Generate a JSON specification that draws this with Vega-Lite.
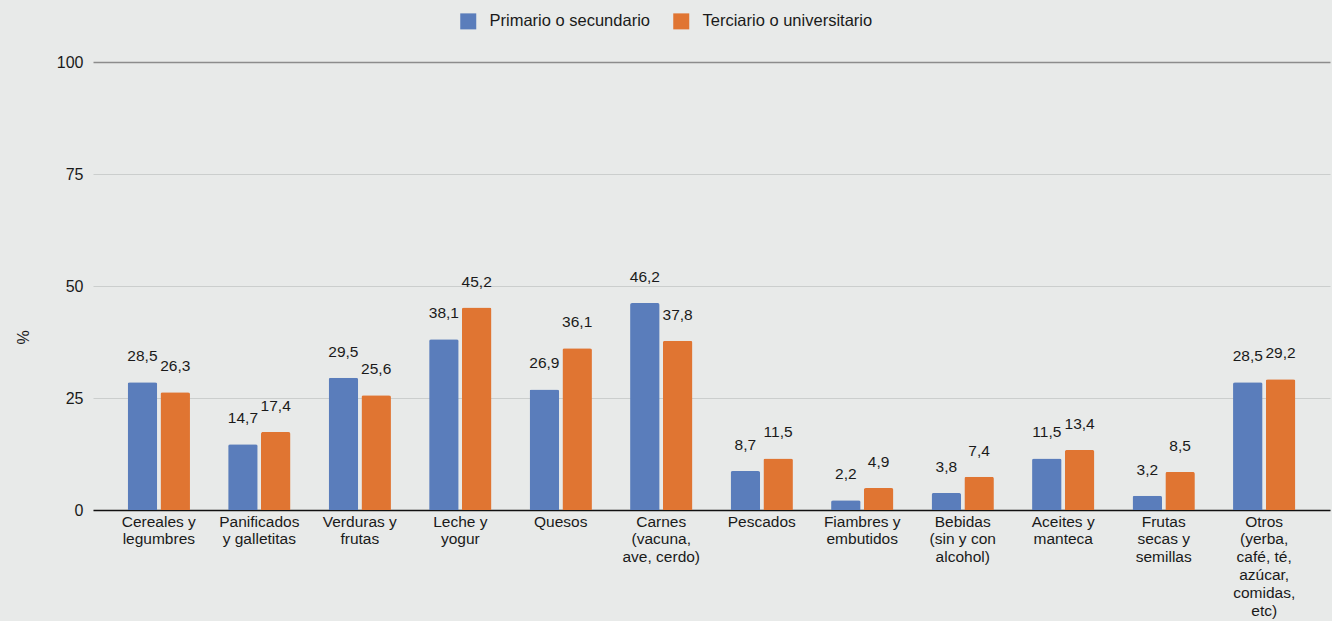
{
  "$schema": "https://vega.github.io/schema/vega-lite/v6.json",
  "width": 1237,
  "height": 448,
  "autosize": "none",
  "padding": {"left": 93, "top": 62, "right": 2, "bottom": 111},
  "background": "#e8eae9",
  "config": {
    "view": {"stroke": null},
    "font": "Liberation Sans",
    "locale": {"number": {"decimal": ",", "thousands": ".", "grouping": [3], "currency": ["", ""]}}
  },
  "data": {
    "values": [
      {"categoria": "Cereales y\nlegumbres", "nivel": "Primario o secundario", "valor": 28.5},
      {"categoria": "Cereales y\nlegumbres", "nivel": "Terciario o universitario", "valor": 26.3},
      {"categoria": "Panificados\ny galletitas", "nivel": "Primario o secundario", "valor": 14.7},
      {"categoria": "Panificados\ny galletitas", "nivel": "Terciario o universitario", "valor": 17.4},
      {"categoria": "Verduras y\nfrutas", "nivel": "Primario o secundario", "valor": 29.5},
      {"categoria": "Verduras y\nfrutas", "nivel": "Terciario o universitario", "valor": 25.6},
      {"categoria": "Leche y\nyogur", "nivel": "Primario o secundario", "valor": 38.1},
      {"categoria": "Leche y\nyogur", "nivel": "Terciario o universitario", "valor": 45.2},
      {"categoria": "Quesos", "nivel": "Primario o secundario", "valor": 26.9},
      {"categoria": "Quesos", "nivel": "Terciario o universitario", "valor": 36.1},
      {"categoria": "Carnes\n(vacuna,\nave, cerdo)", "nivel": "Primario o secundario", "valor": 46.2},
      {"categoria": "Carnes\n(vacuna,\nave, cerdo)", "nivel": "Terciario o universitario", "valor": 37.8},
      {"categoria": "Pescados", "nivel": "Primario o secundario", "valor": 8.7},
      {"categoria": "Pescados", "nivel": "Terciario o universitario", "valor": 11.5},
      {"categoria": "Fiambres y\nembutidos", "nivel": "Primario o secundario", "valor": 2.2},
      {"categoria": "Fiambres y\nembutidos", "nivel": "Terciario o universitario", "valor": 4.9},
      {"categoria": "Bebidas\n(sin y con\nalcohol)", "nivel": "Primario o secundario", "valor": 3.8},
      {"categoria": "Bebidas\n(sin y con\nalcohol)", "nivel": "Terciario o universitario", "valor": 7.4},
      {"categoria": "Aceites y\nmanteca", "nivel": "Primario o secundario", "valor": 11.5},
      {"categoria": "Aceites y\nmanteca", "nivel": "Terciario o universitario", "valor": 13.4},
      {"categoria": "Frutas\nsecas y\nsemillas", "nivel": "Primario o secundario", "valor": 3.2},
      {"categoria": "Frutas\nsecas y\nsemillas", "nivel": "Terciario o universitario", "valor": 8.5},
      {"categoria": "Otros\n(yerba,\ncafé, té,\nazúcar,\ncomidas,\netc)", "nivel": "Primario o secundario", "valor": 28.5},
      {"categoria": "Otros\n(yerba,\ncafé, té,\nazúcar,\ncomidas,\netc)", "nivel": "Terciario o universitario", "valor": 29.2}
    ]
  },
  "encoding": {
    "x": {
      "field": "categoria",
      "type": "nominal",
      "sort": null,
      "scale": {"paddingInner": 0.38, "paddingOuter": 0.345},
      "axis": {
        "title": null,
        "labelAngle": 0,
        "labelExpr": "split(datum.value, '\\n')",
        "labelFontSize": 15.5,
        "labelColor": "#1a1a1a",
        "labelLineHeight": 17.8,
        "labelPadding": 4,
        "labelBaseline": "top",
        "ticks": false,
        "domainColor": "#111111",
        "domainWidth": 1.5,
        "labelLimit": 0
      }
    },
    "xOffset": {"field": "nivel", "type": "nominal", "scale": {"paddingInner": 0.1}},
    "y": {
      "field": "valor",
      "type": "quantitative",
      "scale": {"domain": [0, 100], "nice": false},
      "axis": {
        "title": "%",
        "titleFontSize": 16,
        "titleFontWeight": "normal",
        "titleColor": "#1a1a1a",
        "titlePadding": 25,
        "titleY": 275,
        "values": [0, 25, 50, 75, 100],
        "labelFontSize": 16,
        "labelColor": "#1a1a1a",
        "labelPadding": 10,
        "ticks": false,
        "domain": false,
        "gridColor": {"condition": {"test": "datum.value === 100", "value": "#8c8c8c"}, "value": "#cbcecd"},
        "gridWidth": {"condition": {"test": "datum.value === 100", "value": 1.3}, "value": 1}
      }
    }
  },
  "layer": [
    {
      "mark": {"type": "bar", "cornerRadiusTopLeft": 2, "cornerRadiusTopRight": 2},
      "encoding": {
        "color": {
          "field": "nivel",
          "type": "nominal",
          "scale": {"domain": ["Primario o secundario", "Terciario o universitario"], "range": ["#5a7dbb", "#e07532"]},
          "legend": {
            "title": null,
            "orient": "none",
            "direction": "horizontal",
            "legendX": 367,
            "legendY": -49,
            "symbolType": "square",
            "symbolSize": 256,
            "symbolStrokeWidth": 0,
            "labelFontSize": 16.5,
            "labelLimit": 0,
            "labelColor": "#1a1a1a",
            "columnPadding": 23,
            "labelOffset": 13
          }
        }
      }
    },
    {
      "mark": {"type": "text", "baseline": "middle", "dy": -26, "fontSize": 15.5, "color": "#1a1a1a"},
      "encoding": {
        "text": {"field": "valor", "type": "quantitative", "format": ".1f"}
      }
    }
  ]
}
